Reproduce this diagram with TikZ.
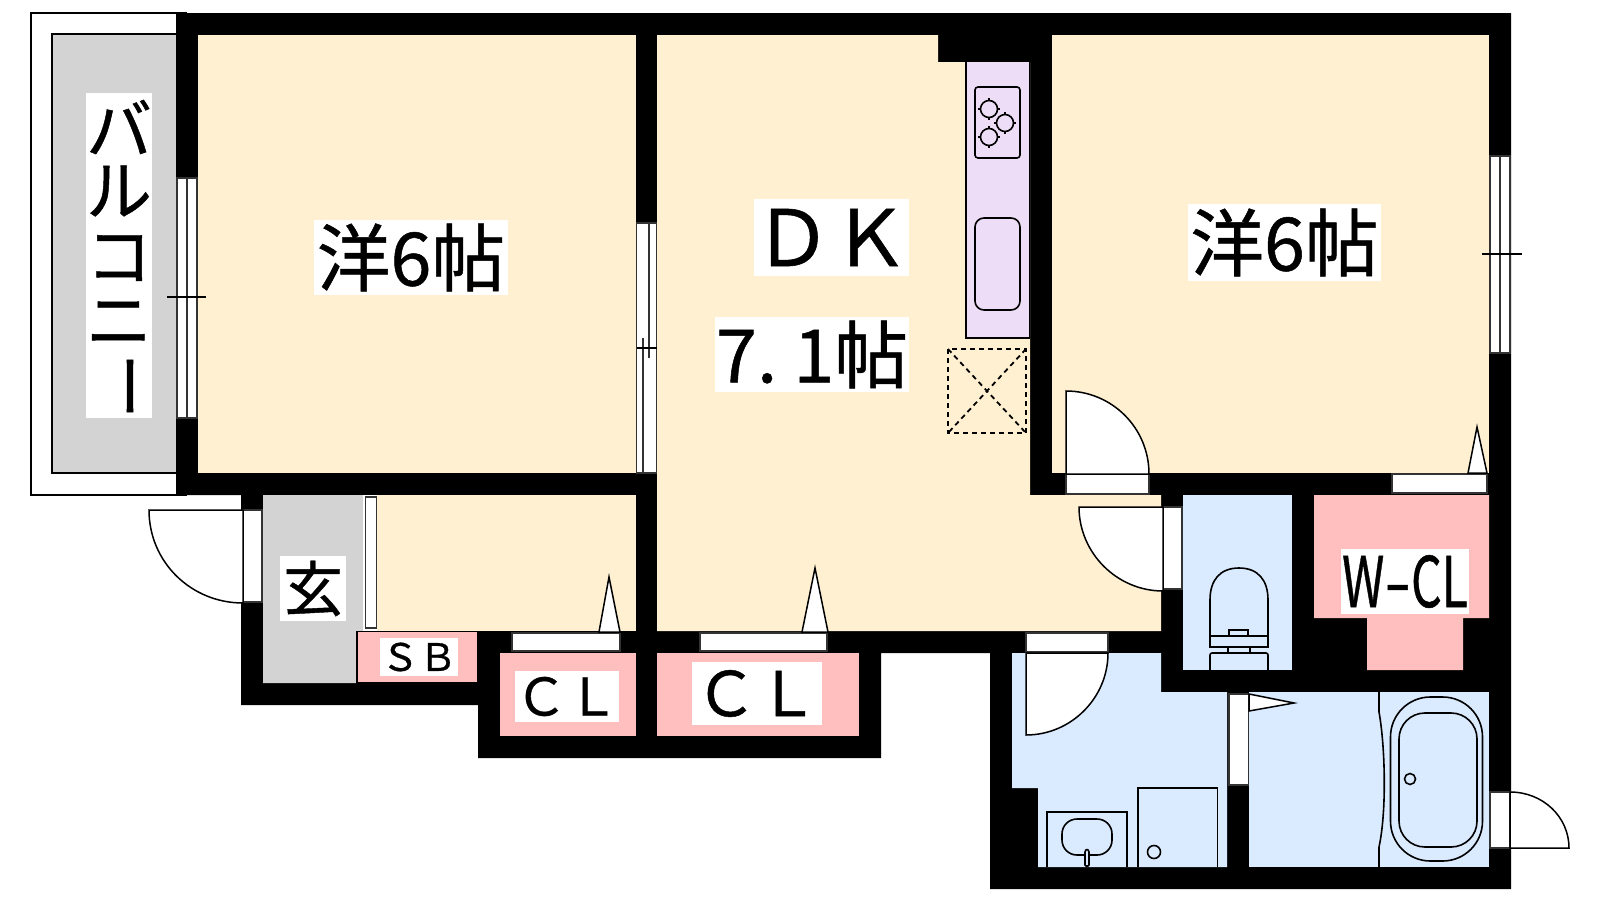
\documentclass[tikz,border=0pt]{standalone}
\usepackage{fontspec}
\usepackage{graphicx}
\newfontfamily\jp{Noto Sans CJK JP}[FakeBold=0.7]
\definecolor{cream}{HTML}{FEF0D0}
\definecolor{bluef}{HTML}{DBEBFF}
\definecolor{pinkf}{HTML}{FFBFBF}
\definecolor{grayf}{HTML}{D3D3D3}
\definecolor{lilac}{HTML}{EDDDF6}
\tikzset{
  outl/.style={draw=black,line width=1.3bp},
  thick1/.style={draw=black,line width=1.6bp},
  door/.style={draw=black,fill=white,line width=1.5bp},
  opening/.style={draw=black!80,fill=white,line width=1.5bp},
  lab/.style={fill=white,inner sep=0pt,align=center,font=\jp},
  ch/.style={inner sep=0pt,font=\jp},
  burner/.pic={
    \draw[thick1] (0,0) circle[radius=8.5];
    \draw[thick1] (-11,0)--(-8,0) (8,0)--(11,0) (0,-11)--(0,-8) (0,8)--(0,11);
  }
}
\newcommand{\fs}[1]{\fontsize{#1}{#1}\selectfont}
\begin{document}
\begin{tikzpicture}[x=1bp,y=-1bp]
\useasboundingbox (0,0) rectangle (1600,900);
\fill[white] (0,0) rectangle (1600,900);
% balcony
\draw[draw=black,line width=1.6bp,fill=white] (31,13) rectangle (186,495);
\draw[draw=black,line width=1.6bp,fill=grayf] (52,34) rectangle (186,473);
% walls
\fill[black] (176,13)--(1511,13)--(1511,889)--(990,889)--(990,653)--(881,653)--(881,758)--(478,758)--(478,705)--(241,705)--(241,495)--(176,495)--cycle;
% floors
\fill[cream] (198,35) rectangle (636,473);
\fill[cream] (657,35)--(938,35)--(938,62)--(1030,62)--(1030,495)--(1161,495)--(1161,631)--(657,631)--cycle;
\fill[cream] (1052,35) rectangle (1489,473);
\fill[cream] (377,495) rectangle (636,631);
\fill[grayf] (263,495)--(363,495)--(363,631)--(357,631)--(357,683)--(263,683)--cycle;
\fill[white] (363,495) rectangle (377,631);
\draw[opening] (365.5,497) rectangle (376.5,628);
\draw[outl,fill=pinkf] (357,683)--(357,631.5)--(478,631.5)--(478,683)--cycle;
\fill[pinkf] (500,653) rectangle (636,736);
\fill[pinkf] (657,653) rectangle (859,736);
\fill[bluef] (1183,495) rectangle (1292,670);
\fill[pinkf] (1314,495)--(1489,495)--(1489,618)--(1463,618)--(1463,670)--(1367,670)--(1367,618)--(1314,618)--cycle;
\fill[bluef] (1012,653)--(1161,653)--(1161,692)--(1227,692)--(1227,867)--(1038,867)--(1038,788)--(1012,788)--cycle;
\fill[bluef] (1249,692) rectangle (1489,867);
% windows
\draw[opening] (177,178) rectangle (197,418);
\draw[opening] (187,178)--(187,418);
\draw[line width=1.2bp] (167,297)--(206,297);
\draw[opening] (636.5,223) rectangle (656.5,473);
\draw[opening] (649,223)--(649,358) (643,338)--(643,473);
\draw[line width=1.5bp] (636.5,348)--(656.5,348);
\draw[opening] (1490,156) rectangle (1510,353);
\draw[opening] (1500,156)--(1500,353);
\draw[line width=1.2bp] (1482,254)--(1522,254);
% kitchen
\draw[outl,fill=lilac] (966,62)--(966,338)--(1029.5,338)--(1029.5,62);
\draw[thick1,rounded corners=3] (975,87) rectangle (1020,158);
\path (989,109) pic {burner} (1005,123) pic {burner} (989,137) pic {burner};
\draw[thick1,rounded corners=9] (975,218) rectangle (1020,310);
\draw[line width=1.8bp,dash pattern=on 5bp off 4bp] (948,349) rectangle (1026,433);
\draw[line width=1.8bp,dash pattern=on 5bp off 4bp] (948,349)--(1026,433) (1026,349)--(948,433);
% doors
\draw[opening] (1066,474) rectangle (1149,494);
\draw[door] (1066,474)--(1066,391) .. controls (1112,391) and (1149,428) .. (1149,474)--cycle;
\draw[opening] (1163,507) rectangle (1182,589);
\draw[door] (1163,507)--(1079,507) .. controls (1079,553) and (1117,591) .. (1163,591)--cycle;
\draw[opening] (243,510) rectangle (262,602);
\draw[door] (243,510)--(149,510) .. controls (149,562) and (191,603) .. (243,603)--cycle;
\draw[opening] (1026,633) rectangle (1108,652);
\draw[door] (1026,653)--(1108,653) .. controls (1108,698) and (1071,735) .. (1026,735)--cycle;
\draw[opening] (1490,792) rectangle (1510,848);
\draw[door] (1510,848)--(1510,792) .. controls (1543,792) and (1569,817) .. (1569,848)--cycle;
% sliding doors
\draw[opening] (1392,474) rectangle (1487,493);
\draw[door] (1468,473)--(1477,427)--(1487,473)--cycle;
\draw[opening] (512,633) rectangle (620,651);
\draw[door] (599,632)--(609,577)--(620,632)--cycle;
\draw[opening] (700,633) rectangle (827,651);
\draw[door] (802,632)--(815,568)--(828,632)--cycle;
\draw[opening] (1229,694) rectangle (1248.5,785);
\draw[door] (1249,694)--(1294,703)--(1249,711)--cycle;
% toilet
\draw[thick1] (1210,636)--(1210,600) .. controls (1210,580) and (1220,568) .. (1239,568) .. controls (1258,568) and (1268,580) .. (1268,600)--(1268,636);
\draw[thick1] (1210,636) rectangle (1268,647);
\draw[thick1] (1229,636)--(1229,630)--(1248,630)--(1248,636);
\draw[thick1] (1228,647)--(1228,653) (1250,647)--(1250,653);
\draw[thick1,rounded corners=2] (1210,670)--(1210,653)--(1268,653)--(1268,670);
% bath
\draw[thick1] (1379,692)--(1379,712) .. controls (1385,745) and (1387,810) .. (1379,847)--(1379,867);
\draw[thick1,rounded corners=40] (1390.5,697) rectangle (1482.5,861);
\draw[thick1,rounded corners=26] (1399,713) rectangle (1477,847);
\draw[thick1] (1410,779) circle[radius=5.5];
% wash
\draw[thick1] (1138,867)--(1138,788)--(1217.5,788)--(1217.5,867);
\draw[thick1] (1154,852) circle[radius=6.5];
\draw[thick1] (1047,867)--(1047,812)--(1127,812)--(1127,867);
\draw[thick1,rounded corners=15] (1062,819) rectangle (1112,855);
\draw[thick1,fill=bluef,rounded corners=1] (1085,866)--(1085,851)--(1087,849)--(1089,851)--(1089,866)--cycle;
% labels
\node[lab,minimum width=194bp,minimum height=75bp,anchor=center] (r1) at (411,257.5) {\fs{74}洋6帖};
\node[lab,minimum width=193bp,minimum height=77bp] (r3) at (1284.5,242.5) {\fs{74}洋6帖};
\node[lab,minimum width=155bp,minimum height=77bp] (dk) at (831.5,237.5) {\fs{78}ＤＫ};
\node[lab,minimum width=194bp,minimum height=75bp] (dks) at (812,354.5) {\fs{74}7.\hspace{16bp}1帖};
\fill[white] (86,93) rectangle (152,418);
\node[ch] (b1) at (119,127) {\fs{66}バ};
\node[ch] (b2) at (119,191) {\fs{66}ル};
\node[ch] (b3) at (119,258) {\fs{66}コ};
\node[ch] (b4) at (119,323) {\fs{66}ニ};
\node[ch] (b5) at (119,386) {\fs{66}\rotatebox[origin=c]{-90}{ー}};
\node[lab,minimum width=66bp,minimum height=65bp] (gen) at (313,588.5) {\fs{60}玄};
\node[lab,minimum width=78bp,minimum height=38bp] (sb) at (419,657) {\fs{38}ＳＢ};
\node[lab,minimum width=104bp,minimum height=51bp] (cl1) at (567,696.5) {\fs{52}ＣＬ};
\node[lab,minimum width=130bp,minimum height=63bp] (cl2) at (757,693.5) {\fs{62}ＣＬ};
\node[lab,minimum width=128bp,minimum height=65bp] (wcl) at (1405,581.5) {\scalebox{0.69}[1]{\fs{70}W\scalebox{1.6}[1]{-}CL}};
\end{tikzpicture}
\end{document}
